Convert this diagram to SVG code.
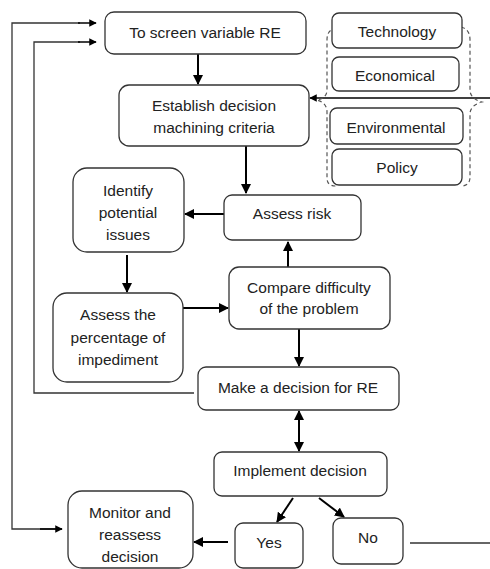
<svg xmlns="http://www.w3.org/2000/svg" width="490" height="569" viewBox="0 0 490 569">
<defs>
<marker id="ah" viewBox="0 0 10 10" refX="9" refY="5" markerWidth="5" markerHeight="5" orient="auto-start-reverse" markerUnits="strokeWidth">
<path d="M0,0 L10,5 L0,10 z" fill="#000"/>
</marker>
<style>
.box{fill:#fff;stroke:#333;stroke-width:1.3}
.t{font-family:"Liberation Sans",Arial,sans-serif;font-size:15.5px;fill:#222;text-anchor:middle;dominant-baseline:central}
.a{stroke:#000;stroke-width:2;fill:none;marker-end:url(#ah)}
.l{stroke:#333;stroke-width:1.3;fill:none}
.br{stroke:#555;stroke-width:1.2;fill:none;stroke-dasharray:4 3}
</style>
</defs>
<rect width="490" height="569" fill="#fff"/>
<g id="connectors">
<line class="a" x1="198" y1="54" x2="198" y2="84"/>
<line class="a" x1="490" y1="98" x2="310" y2="98" style="stroke-width:1.5"/>
<line class="a" x1="246" y1="146" x2="246" y2="193"/>
<line class="a" x1="224" y1="214" x2="185" y2="214"/>
<line class="a" x1="127" y1="255" x2="127" y2="292"/>
<line class="a" x1="183" y1="308" x2="228" y2="308"/>
<line class="a" x1="288" y1="267" x2="288" y2="242"/>
<line class="a" x1="299" y1="329" x2="299" y2="366"/>
<line class="a" x1="299" y1="411" x2="299" y2="451" style="marker-start:url(#ah)"/>
<line class="a" x1="293" y1="498" x2="277" y2="522"/>
<line class="a" x1="319" y1="498" x2="344" y2="517"/>
<line class="a" x1="228" y1="542" x2="194" y2="542"/>
<line class="l" x1="410" y1="543" x2="490" y2="543"/>
<polyline class="l" points="194,393 34,393 34,42 80,42"/>
<line class="a" x1="78" y1="42" x2="96" y2="42" style="stroke-width:1.5"/>
<polyline class="l" points="62,529 12,529 12,23 80,23"/>
<line class="a" x1="78" y1="23" x2="96" y2="23" style="stroke-width:1.5"/>
<line class="a" x1="40" y1="529" x2="62" y2="529" style="stroke-width:1.5"/>
<path class="br" d="M337,28 Q327,29 327,40 L327,90 Q327,98 317,100 Q327,103 327,112 L327,178 Q327,186 336,186"/>
<path class="br" d="M461,27 Q470,29 470,40 L470,91 Q471,99 482,102 Q471,105 470,113 L470,177 Q470,186 461,186"/>
</g>
<g id="screen"><rect class="box" x="105" y="12" width="201" height="42" rx="9"/><text class="t" x="205" y="32">To screen variable RE</text></g>
<g id="establish"><rect class="box" x="119" y="85" width="190" height="61" rx="10"/><text class="t" x="214" y="105">Establish decision</text><text class="t" x="214" y="127">machining criteria</text></g>
<g id="technology"><rect class="box" x="332" y="13" width="130" height="35" rx="7"/><text class="t" x="397" y="31">Technology</text></g>
<g id="economical"><rect class="box" x="332" y="57" width="127" height="34" rx="7"/><text class="t" x="395" y="75">Economical</text></g>
<g id="environmental"><rect class="box" x="330" y="108" width="133" height="36" rx="7"/><text class="t" x="396" y="127">Environmental</text></g>
<g id="policy"><rect class="box" x="332" y="149" width="130" height="36" rx="7"/><text class="t" x="397" y="167">Policy</text></g>
<g id="assessrisk"><rect class="box" x="224" y="195" width="137" height="45" rx="8"/><text class="t" x="292" y="213">Assess risk</text></g>
<g id="identify"><rect class="box" x="73" y="168" width="111" height="84" rx="14"/><text class="t" x="128" y="190">Identify</text><text class="t" x="128" y="212">potential</text><text class="t" x="128" y="234">issues</text></g>
<g id="percentage"><rect class="box" x="53" y="293" width="130" height="89" rx="14"/><text class="t" x="118" y="314">Assess the</text><text class="t" x="118" y="337">percentage of</text><text class="t" x="118" y="359">impediment</text></g>
<g id="compare"><rect class="box" x="229" y="267" width="161" height="62" rx="10"/><text class="t" x="309" y="287">Compare difficulty</text><text class="t" x="309" y="308">of the problem</text></g>
<g id="makedecision"><rect class="box" x="198" y="367" width="201" height="43" rx="8"/><text class="t" x="298" y="387">Make a decision for RE</text></g>
<g id="implement"><rect class="box" x="214" y="452" width="173" height="44" rx="8"/><text class="t" x="300" y="470">Implement decision</text></g>
<g id="yes"><rect class="box" x="235" y="523" width="68" height="45" rx="8"/><text class="t" x="269" y="542">Yes</text></g>
<g id="no"><rect class="box" x="333" y="518" width="70" height="46" rx="8"/><text class="t" x="368" y="537">No</text></g>
<g id="monitor"><rect class="box" x="68" y="491" width="125" height="77" rx="14"/><text class="t" x="130" y="512">Monitor and</text><text class="t" x="130" y="534">reassess</text><text class="t" x="130" y="556">decision</text></g>
</svg>
